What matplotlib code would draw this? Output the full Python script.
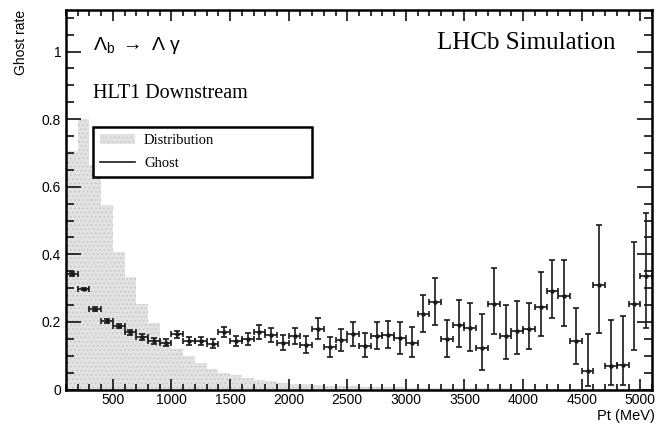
import matplotlib
matplotlib.use("Agg")
import matplotlib.pyplot as plt
import numpy as np
from matplotlib.patches import Patch
from matplotlib.lines import Line2D
from matplotlib.ticker import MultipleLocator, FuncFormatter

plt.rcParams['font.family'] = ['Liberation Sans', 'DejaVu Sans']
plt.rcParams['mathtext.fontset'] = 'custom'
plt.rcParams['mathtext.rm'] = 'Liberation Sans'
plt.rcParams['mathtext.it'] = 'Liberation Sans'
plt.rcParams['hatch.linewidth'] = 0.6

# Pt bins (MeV)
edges = np.arange(100, 5200, 100)
centers = (edges[:-1] + edges[1:]) / 2

# Pt distribution, scaled to the ghost-rate axis
dist = [0.707, 0.800, 0.664, 0.546, 0.407, 0.334, 0.252, 0.196, 0.146, 0.120,
        0.098, 0.077, 0.060, 0.048, 0.042, 0.033, 0.027, 0.024, 0.020, 0.017,
        0.015, 0.013, 0.011, 0.010, 0.009, 0.008, 0.007, 0.006, 0.006, 0.005,
        0.005, 0.004, 0.004, 0.004, 0.003, 0.003, 0.003, 0.003, 0.002, 0.002,
        0.002, 0.002, 0.002, 0.002, 0.001, 0.001, 0.001, 0.001, 0.001, 0.001]

# ghost rate per bin with asymmetric errors
ghost = [0.342, 0.297, 0.238, 0.204, 0.188, 0.169, 0.155, 0.144, 0.139, 0.163,
         0.143, 0.143, 0.135, 0.170, 0.143, 0.149, 0.170, 0.161, 0.138, 0.158,
         0.131, 0.179, 0.125, 0.146, 0.164, 0.130, 0.159, 0.162, 0.151, 0.139,
         0.224, 0.258, 0.149, 0.192, 0.181, 0.122, 0.252, 0.158, 0.172, 0.180,
         0.243, 0.291, 0.278, 0.144, 0.054, 0.309, 0.070, 0.073, 0.252, 0.335]
err_lo = [0.005, 0.004, 0.005, 0.006, 0.007, 0.007, 0.008, 0.009, 0.009, 0.010,
          0.011, 0.012, 0.013, 0.015, 0.015, 0.017, 0.020, 0.021, 0.021, 0.024,
          0.024, 0.030, 0.028, 0.031, 0.035, 0.035, 0.039, 0.040, 0.045, 0.042,
          0.053, 0.066, 0.053, 0.067, 0.068, 0.065, 0.089, 0.067, 0.066, 0.060,
          0.085, 0.079, 0.090, 0.068, 0.044, 0.141, 0.057, 0.060, 0.135, 0.154]
err_hi = [0.005, 0.004, 0.005, 0.006, 0.007, 0.007, 0.008, 0.009, 0.009, 0.010,
          0.011, 0.012, 0.013, 0.015, 0.016, 0.018, 0.021, 0.022, 0.022, 0.025,
          0.026, 0.032, 0.030, 0.033, 0.037, 0.038, 0.041, 0.042, 0.048, 0.045,
          0.057, 0.071, 0.058, 0.073, 0.075, 0.101, 0.107, 0.091, 0.089, 0.075,
          0.106, 0.091, 0.105, 0.098, 0.110, 0.177, 0.135, 0.145, 0.184, 0.186]

fig = plt.figure(figsize=(6.58, 4.25), dpi=100)
ax = fig.add_axes([0.1003, 0.0835, 0.8906, 0.893])

# dotted grey fill for the distribution
ax.stairs(dist, edges, fill=True, facecolor='#e2e2e2', edgecolor='#c4c4c4',
          hatch='....', linewidth=0)
ax.errorbar(centers, ghost, yerr=[err_lo, err_hi], xerr=50, fmt='o', ms=2.2,
            color='#1a1a1a', ecolor='#1a1a1a', elinewidth=1.2, capsize=2.5,
            capthick=1.2)

ax.set_xlim(100, 5100)
ax.set_ylim(0, 1.123)

ax.xaxis.set_major_locator(MultipleLocator(500))
ax.xaxis.set_minor_locator(MultipleLocator(100))
ax.yaxis.set_major_locator(MultipleLocator(0.2))
ax.yaxis.set_minor_locator(MultipleLocator(0.05))
ax.yaxis.set_major_formatter(FuncFormatter(lambda v, p: f'{v:g}'))
ax.xaxis.set_major_formatter(FuncFormatter(lambda v, p: '' if v < 500 else f'{v:g}'))

ax.tick_params(which='both', direction='in', top=True, right=True,
               labelsize=10, width=1.3, color='#222222')
ax.tick_params(axis='y', which='major', length=11)
ax.tick_params(axis='y', which='minor', length=5.5)
ax.tick_params(axis='x', which='major', length=8)
ax.tick_params(axis='x', which='minor', length=4)
ax.tick_params(axis='x', pad=2.5)
for s in ax.spines.values():
    s.set_linewidth(1.8)

fig.text(0.032, 0.976, 'Ghost rate', rotation=90, ha='center', va='top', fontsize=10)
fig.text(0.995, 0.004, 'Pt (MeV)', ha='right', va='bottom', fontsize=10.5)

ax.text(0.046, 0.895, r'$\mathregular{\Lambda_{b}\ \rightarrow\ \Lambda\ \gamma}$',
        transform=ax.transAxes, fontsize=14, ha='left', va='baseline')
ax.text(0.046, 0.768, 'HLT1 Downstream', transform=ax.transAxes, fontsize=14.5,
        family='Liberation Serif', ha='left', va='baseline')
ax.text(0.937, 0.897, 'LHCb Simulation', transform=ax.transAxes, fontsize=18,
        family='Liberation Serif', ha='right', va='baseline')

handles = [Patch(facecolor='#e2e2e2', edgecolor='#c4c4c4', hatch='....', linewidth=0),
           Line2D([], [], color='#1a1a1a', lw=1.2)]
leg = ax.legend(handles, ['Distribution', 'Ghost'], loc='upper left',
                bbox_to_anchor=(0.046, 0.563, 0.374, 0.129), mode='expand',
                borderaxespad=0, fancybox=False, framealpha=1, edgecolor='black',
                prop={'family': 'Liberation Serif', 'size': 10.5},
                handlelength=2.4, handletextpad=0.6, labelspacing=0.65,
                borderpad=0.5)
leg.get_frame().set_linewidth(1.8)

fig.savefig('out.png', dpi=100)
